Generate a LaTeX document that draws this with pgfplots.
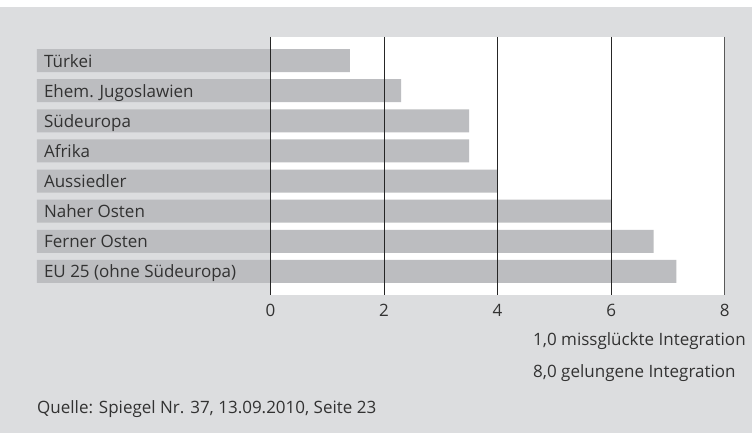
\documentclass[border=0pt]{standalone}
\usepackage{fontspec}
\setmainfont{Open Sans}
\usepackage{pgfplots}
\pgfplotsset{compat=1.18}
\definecolor{bggray}{RGB}{220,221,223}
\definecolor{bargray}{RGB}{188,189,192}
\definecolor{txt}{RGB}{50,50,50}
\begin{document}
\begin{tikzpicture}[font=\fontsize{17}{19}\selectfont, text=txt]
\fill[white] (-37pt,-138pt) rectangle (715pt,295pt);
\fill[bggray] (-37pt,-138pt) rectangle (715pt,288pt);
\fill[white] (233.5pt,0pt) rectangle (687.7pt,258pt);
\begin{axis}[
  at={(0pt,0pt)}, anchor=south west,
  scale only axis, width=687.7pt, height=258pt,
  xmin=-4.11, xmax=8, ymin=-0.78, ymax=7.78,
  y dir=reverse,
  axis line style={draw=none},
  xbar, bar width=23pt, bar shift=0pt,
  xtick={0,2,4,6}, extra x ticks={8},
  extra x tick style={grid style={draw=black!65, line width=1pt}},
  xmajorgrids, grid style={draw=black!85, line width=0.8pt},
  major tick length=0pt,
  ytick={0,...,7},
  yticklabels={Türkei, Ehem. Jugoslawien, Südeuropa, Afrika, Aussiedler, Naher Osten, Ferner Osten, EU 25 (ohne Südeuropa)},
  yticklabel style={anchor=base west, xshift=3.5pt, yshift=-6.5pt, text=txt},
  xticklabel style={anchor=base, yshift=-21pt, text=txt},
  /pgf/number format/assume math mode=true,
  axis on top,
  clip=false,
]
\addplot[fill=bargray, draw=none] coordinates {(1.4,0) (2.3,1) (3.5,2) (3.5,3) (4.0,4) (6.0,5) (6.75,6) (7.15,7)};
\addplot[fill=bargray, draw=none] coordinates {(-4.11,0) (-4.11,1) (-4.11,2) (-4.11,3) (-4.11,4) (-4.11,5) (-4.11,6) (-4.11,7)};
\end{axis}
\node[anchor=base west, inner sep=0pt] at (496pt,-51pt) {1,0 missglückte Integration};
\node[anchor=base west, inner sep=0pt] at (496pt,-83pt) {8,0 gelungene Integration};
\node[anchor=base west, inner sep=0pt] at (0pt,-119pt) {Quelle: Spiegel Nr. 37, 13.09.2010, Seite 23};
\end{tikzpicture}
\end{document}
